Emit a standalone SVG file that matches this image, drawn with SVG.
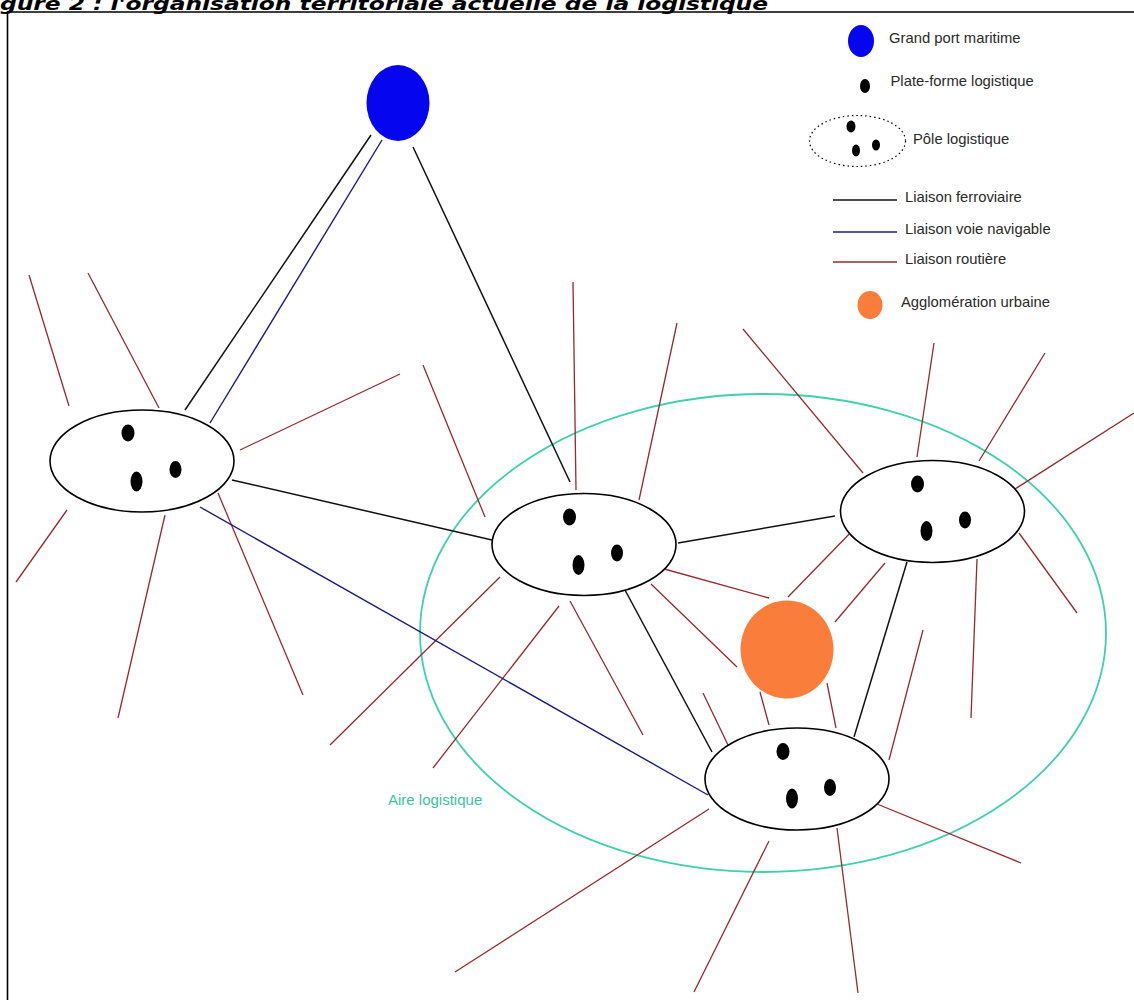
<svg xmlns="http://www.w3.org/2000/svg" width="1134" height="1000" viewBox="0 0 1134 1000">
  <style>
    .title { font-family: "DejaVu Sans", Verdana, sans-serif; font-weight: bold; font-style: italic; font-size: 18px; fill: #000; }
    .lbl { font-family: "Liberation Sans", Arial, sans-serif; font-size: 14.8px; fill: #2a2a2a; }
    .area-lbl { font-family: "Liberation Sans", Arial, sans-serif; font-size: 15px; fill: #3cc4a0; }
    .pole { fill: #fff; stroke: #000; stroke-width: 1.6; }
    .dot { fill: #000; }
    .rail { stroke: #111; stroke-width: 1.5; fill: none; }
    .water { stroke: #1c1c80; stroke-width: 1.4; fill: none; }
    .road { stroke: #942a30; stroke-width: 1.3; fill: none; }
    .area { fill: none; stroke: #3fd0ac; stroke-width: 1.8; }
    .port { fill: #0505f0; }
    .city { fill: #fb7d3c; }
  </style>

  <rect width="1134" height="1000" fill="#fff"/>

  <!-- heading and frame -->
  <text class="title" x="0" y="10" textLength="768" lengthAdjust="spacingAndGlyphs">gure 2 : l'organisation territoriale actuelle de la logistique</text>
  <path d="M7.5 1000 V12 H1134" fill="none" stroke="#000" stroke-width="1.6"/>

  <!-- logistics area -->
  <g id="aire-logistique">
    <ellipse class="area" cx="763" cy="633" rx="343" ry="239"/>
    <text class="area-lbl" x="388" y="805">Aire logistique</text>
  </g>

  <!-- connectors -->
  <g id="connectors">
    <!-- roads -->
    <g id="roads">
      <line class="road" x1="29" y1="275" x2="69" y2="406"/>
      <line class="road" x1="88" y1="273" x2="159" y2="408"/>
      <line class="road" x1="240" y1="450" x2="400" y2="374"/>
      <line class="road" x1="67" y1="510" x2="16" y2="582"/>
      <line class="road" x1="165" y1="515" x2="118" y2="718"/>
      <line class="road" x1="218" y1="493" x2="303" y2="695"/>

      <line class="road" x1="423" y1="365" x2="485" y2="517"/>
      <line class="road" x1="573" y1="282" x2="576" y2="490"/>
      <line class="road" x1="677" y1="323" x2="639" y2="500"/>
      <line class="road" x1="743" y1="329" x2="863" y2="473"/>
      <line class="road" x1="500" y1="577" x2="330" y2="745"/>
      <line class="road" x1="559" y1="606" x2="433" y2="768"/>
      <line class="road" x1="570" y1="601" x2="643" y2="735"/>
      <line class="road" x1="651" y1="584" x2="737" y2="667"/>
      <line class="road" x1="657" y1="567" x2="769" y2="598"/>

      <line class="road" x1="934" y1="343" x2="917" y2="457"/>
      <line class="road" x1="1045" y1="353" x2="979" y2="461"/>
      <line class="road" x1="1134" y1="413" x2="1015" y2="489"/>
      <line class="road" x1="788" y1="597" x2="857" y2="526"/>
      <line class="road" x1="835" y1="622" x2="885" y2="563"/>
      <line class="road" x1="977" y1="559" x2="971" y2="718"/>
      <line class="road" x1="1019" y1="533" x2="1077" y2="613"/>

      <line class="road" x1="703" y1="693" x2="728" y2="745"/>
      <line class="road" x1="760" y1="692" x2="769" y2="725"/>
      <line class="road" x1="827" y1="683" x2="836" y2="728"/>
      <line class="road" x1="923" y1="630" x2="889" y2="760"/>

      <line class="road" x1="709" y1="809" x2="455" y2="972"/>
      <line class="road" x1="769" y1="841" x2="694" y2="992"/>
      <line class="road" x1="837" y1="828" x2="858" y2="993"/>
      <line class="road" x1="877" y1="804" x2="1021" y2="863"/>
    </g>
    <!-- rail -->
    <g id="rail">
      <line class="rail" x1="371" y1="135" x2="185" y2="410"/>
      <line class="rail" x1="413" y1="147" x2="570" y2="482"/>
      <line class="rail" x1="232" y1="480" x2="492" y2="540"/>
      <line class="rail" x1="678" y1="543" x2="835" y2="516"/>
      <line class="rail" x1="625" y1="590" x2="712" y2="752"/>
      <line class="rail" x1="907" y1="562" x2="854" y2="737"/>
    </g>
    <!-- waterways -->
    <g id="waterways">
      <line class="water" x1="382" y1="140" x2="210" y2="423"/>
      <line class="water" x1="200" y1="507" x2="708" y2="795"/>
    </g>
  </g>

  <!-- seaport -->
  <g id="grand-port">
    <ellipse class="port" cx="398" cy="103" rx="31.5" ry="38"/>
  </g>

  <!-- urban area -->
  <g id="agglomeration">
    <ellipse class="city" cx="787" cy="649.5" rx="46.5" ry="49"/>
  </g>

  <!-- logistics hubs -->
  <g id="pole-1">
    <ellipse class="pole" cx="142" cy="461" rx="92" ry="51"/>
    <ellipse class="dot" cx="128" cy="433" rx="6.5" ry="8.5"/>
    <ellipse class="dot" cx="136.5" cy="481.5" rx="6" ry="10"/>
    <ellipse class="dot" cx="175.5" cy="469.5" rx="6" ry="8.5"/>
  </g>
  <g id="pole-2">
    <ellipse class="pole" cx="584" cy="544.5" rx="92" ry="51"/>
    <ellipse class="dot" cx="569.5" cy="517" rx="6.5" ry="8.5"/>
    <ellipse class="dot" cx="578.5" cy="565" rx="6" ry="10"/>
    <ellipse class="dot" cx="617" cy="553" rx="6" ry="8.5"/>
  </g>
  <g id="pole-3">
    <ellipse class="pole" cx="932.5" cy="511.5" rx="92" ry="51"/>
    <ellipse class="dot" cx="917.5" cy="484" rx="6.5" ry="8.5"/>
    <ellipse class="dot" cx="926.5" cy="531" rx="6" ry="10"/>
    <ellipse class="dot" cx="965" cy="520" rx="6" ry="8.5"/>
  </g>
  <g id="pole-4">
    <ellipse class="pole" cx="797" cy="779" rx="92" ry="51"/>
    <ellipse class="dot" cx="783" cy="751.5" rx="6.5" ry="8.5"/>
    <ellipse class="dot" cx="792" cy="798.5" rx="6" ry="10"/>
    <ellipse class="dot" cx="830" cy="787.5" rx="6" ry="8.5"/>
  </g>

  <!-- key -->
  <g id="legend">
    <ellipse class="port" cx="861" cy="41" rx="13" ry="16"/>
    <text class="lbl" x="889" y="43">Grand port maritime</text>

    <ellipse class="dot" cx="865" cy="86" rx="5" ry="7"/>
    <text class="lbl" x="890.5" y="86">Plate-forme logistique</text>

    <ellipse cx="857.5" cy="141" rx="48" ry="25.5" fill="none" stroke="#000" stroke-width="1.2" stroke-dasharray="1.5 3"/>
    <ellipse class="dot" cx="851" cy="126.5" rx="4.5" ry="6"/>
    <ellipse class="dot" cx="856" cy="150.5" rx="4" ry="6"/>
    <ellipse class="dot" cx="876" cy="145" rx="4" ry="5.5"/>
    <text class="lbl" x="913" y="144">Pôle logistique</text>

    <line class="rail" x1="833" y1="200" x2="897" y2="200" stroke-width="1.2"/>
    <text class="lbl" x="905" y="201.5">Liaison ferroviaire</text>

    <line class="water" x1="833" y1="232" x2="897" y2="232" stroke-width="1.2"/>
    <text class="lbl" x="905" y="234">Liaison voie navigable</text>

    <line class="road" x1="833" y1="262" x2="897" y2="262"/>
    <text class="lbl" x="905" y="264">Liaison routière</text>

    <ellipse class="city" cx="870" cy="305" rx="12.5" ry="14"/>
    <text class="lbl" x="901" y="307">Agglomération urbaine</text>
  </g>
</svg>
